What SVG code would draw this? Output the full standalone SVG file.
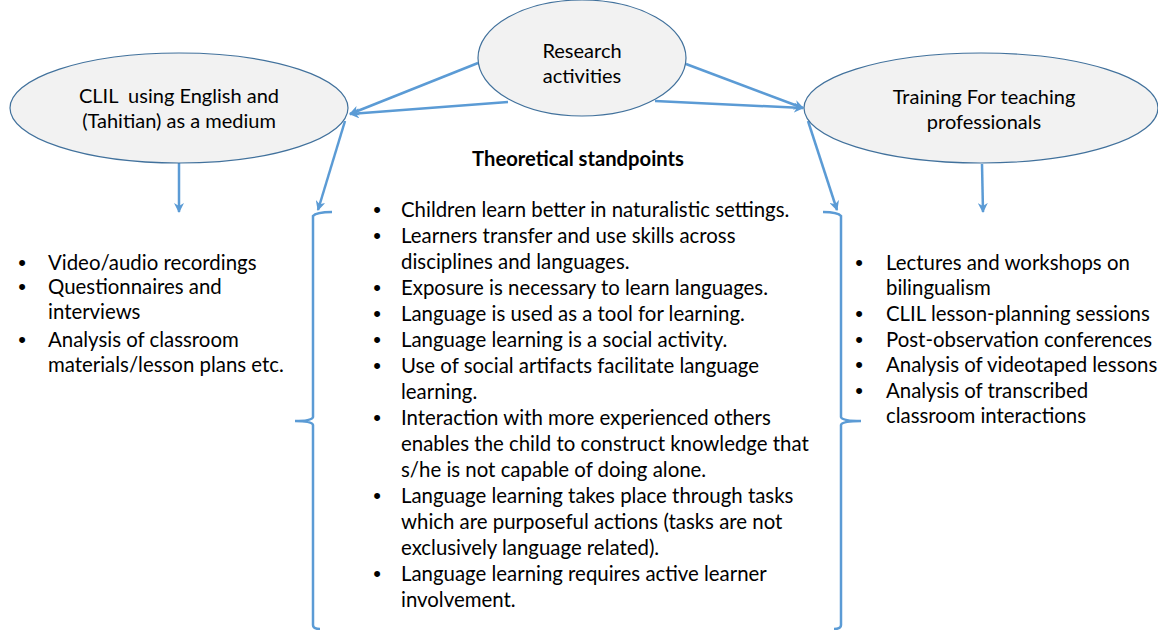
<svg xmlns="http://www.w3.org/2000/svg" width="1158" height="630" viewBox="0 0 1158 630">
<defs>
<style>
.node{fill:#f2f2f2;stroke:#41719c;stroke-width:1.2}
.lbl{font-family:Lato,"Liberation Sans",sans-serif;font-size:20px;fill:#000;text-anchor:middle}
.txt{font-family:Lato,"Liberation Sans",sans-serif;font-size:20.4px;fill:#000}
.bul{font-family:"Liberation Sans",sans-serif;font-size:22px;fill:#000;text-anchor:middle}
.ttl{font-family:Lato,"Liberation Sans",sans-serif;font-size:20.2px;font-weight:bold;fill:#000;text-anchor:middle}
.con{stroke:#5b9bd5;stroke-width:2.5;fill:none}
.arr{marker-end:url(#ah)}
</style>
<marker id="ah" viewBox="0 0 10 10" refX="9" refY="5" markerWidth="4" markerHeight="4" orient="auto" markerUnits="strokeWidth">
<path d="M0,0 L10,5 L0,10 L3,5 z" fill="#5b9bd5"/>
</marker>
</defs>
<rect width="1158" height="630" fill="#fff"/>
<g id="connectors">
<line class="con arr" x1="478" y1="63" x2="350" y2="114"/>
<line class="con arr" x1="508" y1="102" x2="350" y2="114"/>
<line class="con arr" x1="686" y1="64" x2="803" y2="108"/>
<line class="con arr" x1="655" y1="101" x2="803" y2="108"/>
<line class="con arr" x1="345" y1="121" x2="318" y2="210"/>
<line class="con arr" x1="808" y1="121" x2="837" y2="210"/>
<line class="con arr" x1="179" y1="162" x2="179" y2="212"/>
<line class="con arr" x1="982" y1="164" x2="983" y2="212"/>
<path class="con" d="M332,212 Q316,212 313,216 L313,417 Q312,421 295,421 Q312,421 313,425 L313,625 Q313,629 320,629"/>
<path class="con" d="M823,212 Q838,212 841,216 L841,417 Q842,421 861,421 Q842,421 841,425 L841,625 Q841,629 834,629"/>
</g>
<g id="research">
<ellipse class="node" cx="582" cy="58" rx="104" ry="58"/>
<text class="lbl" x="582" y="58">Research</text>
<text class="lbl" x="582" y="83">activities</text>
</g>
<g id="clil">
<ellipse class="node" cx="179" cy="108" rx="169" ry="55"/>
<text class="lbl" x="179" y="103" xml:space="preserve">CLIL  using English and</text>
<text class="lbl" x="179" y="128">(Tahitian) as a medium</text>
</g>
<g id="training">
<ellipse class="node" cx="981" cy="108" rx="177" ry="55"/>
<text class="lbl" x="984" y="104">Training For teaching</text>
<text class="lbl" x="984" y="129">professionals</text>
</g>
<g id="theory">
<text class="ttl" x="578" y="166">Theoretical standpoints</text>
<g class="bul">
<text x="377" y="217">•</text><text x="377" y="243">•</text><text x="377" y="295">•</text><text x="377" y="321">•</text><text x="377" y="347">•</text><text x="377" y="373">•</text><text x="377" y="425">•</text><text x="377" y="503">•</text><text x="377" y="581">•</text>
</g>
<g class="txt">
<text x="401" y="217">Children learn better in naturalistic settings.</text>
<text x="401" y="243">Learners transfer and use skills across</text>
<text x="401" y="269">disciplines and languages.</text>
<text x="401" y="295">Exposure is necessary to learn languages.</text>
<text x="401" y="321">Language is used as a tool for learning.</text>
<text x="401" y="347">Language learning is a social activity.</text>
<text x="401" y="373">Use of social artifacts facilitate language</text>
<text x="401" y="399">learning.</text>
<text x="401" y="425">Interaction with more experienced others</text>
<text x="401" y="451">enables the child to construct knowledge that</text>
<text x="401" y="477">s/he is not capable of doing alone.</text>
<text x="401" y="503">Language learning takes place through tasks</text>
<text x="401" y="529">which are purposeful actions (tasks are not</text>
<text x="401" y="555">exclusively language related).</text>
<text x="401" y="581">Language learning requires active learner</text>
<text x="401" y="607">involvement.</text>
</g>
</g>
<g id="clil-list">
<g class="bul"><text x="22" y="270">•</text><text x="22" y="294">•</text><text x="22" y="347">•</text></g>
<g class="txt">
<text x="48" y="270">Video/audio recordings</text>
<text x="48" y="294">Questionnaires and</text>
<text x="48" y="319">interviews</text>
<text x="48" y="347">Analysis of classroom</text>
<text x="48" y="372">materials/lesson plans etc.</text>
</g>
</g>
<g id="training-list">
<g class="bul"><text x="859" y="270">•</text><text x="859" y="321">•</text><text x="859" y="347">•</text><text x="859" y="372">•</text><text x="859" y="398">•</text></g>
<g class="txt">
<text x="886" y="270">Lectures and workshops on</text>
<text x="886" y="295">bilingualism</text>
<text x="886" y="321">CLIL lesson-planning sessions</text>
<text x="886" y="347">Post-observation conferences</text>
<text x="886" y="372">Analysis of videotaped lessons</text>
<text x="886" y="398">Analysis of transcribed</text>
<text x="886" y="423">classroom interactions</text>
</g>
</g>
</svg>
